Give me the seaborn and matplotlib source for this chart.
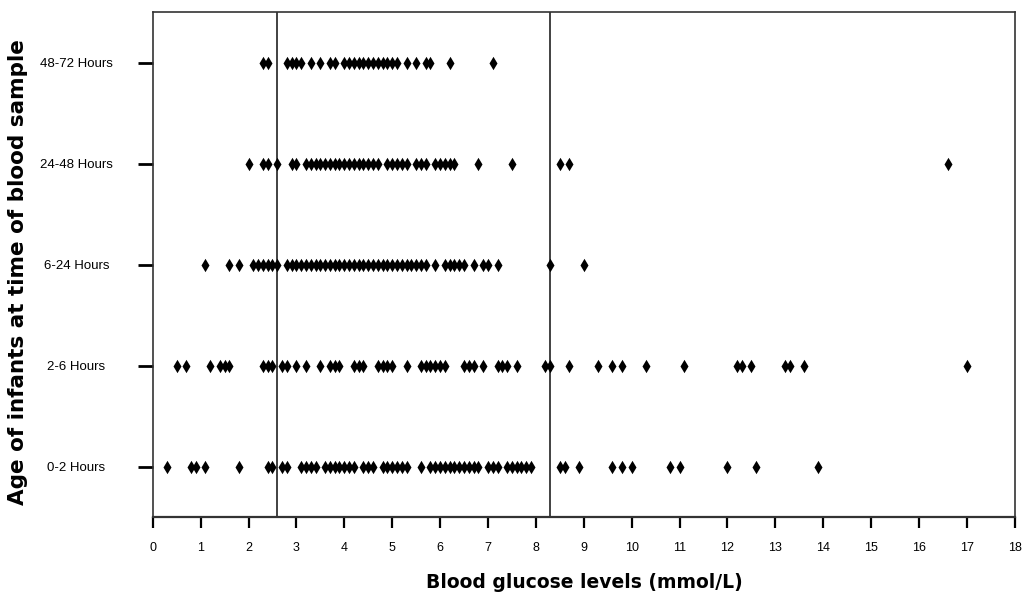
import numpy as np
import pandas as pd
import matplotlib
matplotlib.use("Agg")
import matplotlib.pyplot as plt
import seaborn as sns

groups = ["48-72 Hours", "24-48 Hours", "6-24 Hours", "2-6 Hours", "0-2 Hours"]

g_48_72 = [2.3, 2.4, 2.8, 2.9, 3.0, 3.1, 3.3, 3.5, 3.7, 3.8, 4.0, 4.1, 4.2, 4.3,
           4.4, 4.5, 4.6, 4.7, 4.8, 4.9, 5.0, 5.1, 5.3, 5.5, 5.7, 5.8, 6.2, 7.1]
g_24_48 = [2.0, 2.3, 2.4, 2.6, 2.9, 3.0, 3.2, 3.3, 3.4, 3.5, 3.6, 3.7, 3.8, 3.9,
           4.0, 4.1, 4.2, 4.3, 4.4, 4.5, 4.6, 4.7, 4.9, 5.0, 5.1, 5.2, 5.3, 5.5,
           5.6, 5.7, 5.9, 6.0, 6.1, 6.2, 6.3, 6.8, 7.5, 8.5, 8.7, 16.6]
g_6_24 = [1.1, 1.6, 1.8, 2.1, 2.2, 2.3, 2.4, 2.5, 2.6, 2.8, 2.9, 3.0, 3.1, 3.2,
          3.3, 3.4, 3.5, 3.6, 3.7, 3.8, 3.9, 4.0, 4.1, 4.2, 4.3, 4.4, 4.5, 4.6,
          4.7, 4.8, 4.9, 5.0, 5.1, 5.2, 5.3, 5.4, 5.5, 5.6, 5.7, 5.9, 6.1, 6.2,
          6.3, 6.4, 6.5, 6.7, 6.9, 7.0, 7.2, 8.3, 9.0]
g_2_6 = [0.5, 0.7, 1.2, 1.4, 1.5, 1.6, 2.3, 2.4, 2.5, 2.7, 2.8, 3.0, 3.2, 3.5,
         3.7, 3.8, 3.9, 4.2, 4.3, 4.4, 4.7, 4.8, 4.9, 5.0, 5.3, 5.6, 5.7, 5.8,
         5.9, 6.0, 6.1, 6.5, 6.6, 6.7, 6.9, 7.2, 7.3, 7.4, 7.6, 8.2, 8.3, 8.7,
         9.3, 9.6, 9.8, 10.3, 11.1, 12.2, 12.3, 12.5, 13.2, 13.3, 13.6, 17.0]
g_0_2 = [0.3, 0.8, 0.9, 1.1, 1.8, 2.4, 2.5, 2.7, 2.8, 3.1, 3.2, 3.3, 3.4, 3.6,
         3.7, 3.8, 3.9, 4.0, 4.1, 4.2, 4.4, 4.5, 4.6, 4.8, 4.9, 5.0, 5.1, 5.2,
         5.3, 5.6, 5.8, 5.9, 6.0, 6.1, 6.2, 6.3, 6.4, 6.5, 6.6, 6.7, 6.8, 7.0,
         7.1, 7.2, 7.4, 7.5, 7.6, 7.7, 7.8, 7.9, 8.5, 8.6, 8.9, 9.6, 9.8, 10.0,
         10.8, 11.0, 12.0, 12.6, 13.9]

ref_lines = [2.6, 8.3]
x_ticks = list(range(0, 19))

series = [g_48_72, g_24_48, g_6_24, g_2_6, g_0_2]
df = pd.DataFrame({
    "glucose": np.concatenate(series),
    "group": np.concatenate([[g] * len(v) for g, v in zip(groups, series)]),
})

sns.set_style("white")
plt.rcParams["font.family"] = ["Liberation Sans", "DejaVu Sans"]
plt.rcParams["text.color"] = "black"
plt.rcParams["xtick.color"] = "black"
plt.rcParams["ytick.color"] = "black"

fig = plt.figure(figsize=(10.25, 6.0), dpi=100)
ax = fig.add_axes([0.149, 0.138, 0.841, 0.842])

sns.stripplot(data=df, x="glucose", y="group", order=groups, orient="h",
              jitter=False, marker="d", s=6.8, color="black",
              linewidth=0, ax=ax)

for v in ref_lines:
    ax.axvline(v, color="#333333", lw=1.3, zorder=0)

ax.set_xlim(0, 18)
ax.set_ylim(4.5, -0.5)
ax.set_xticks(x_ticks)
ax.set_xticklabels([str(t) for t in x_ticks], fontsize=9)
ax.set_yticks(range(len(groups)))
ax.set_yticklabels(groups, fontsize=9.5, ha="center")
ax.tick_params(axis="x", direction="out", length=8, width=1.6, color="black",
               labelcolor="black", pad=10, bottom=True)
ax.tick_params(axis="y", direction="out", length=11, width=2, color="black",
               labelcolor="black", pad=44, left=True)
for sp in ax.spines.values():
    sp.set_visible(True)
    sp.set_color("#333333")
    sp.set_linewidth(1.2)
ax.spines["bottom"].set_linewidth(1.6)

ax.set_xlabel("")
ax.set_ylabel("")
fig.text(584 / 1025, 1 - 583 / 600, "Blood glucose levels (mmol/L)",
         fontsize=13.5, fontweight="bold", family="DejaVu Sans", color="black",
         ha="center", va="center")
fig.text(18 / 1025, 1 - 272 / 600, "Age of infants at time of blood sample",
         fontsize=15.5, fontweight="bold", family="DejaVu Sans", color="black",
         rotation=90, ha="center", va="center")

fig.savefig("out.png", dpi=100)
